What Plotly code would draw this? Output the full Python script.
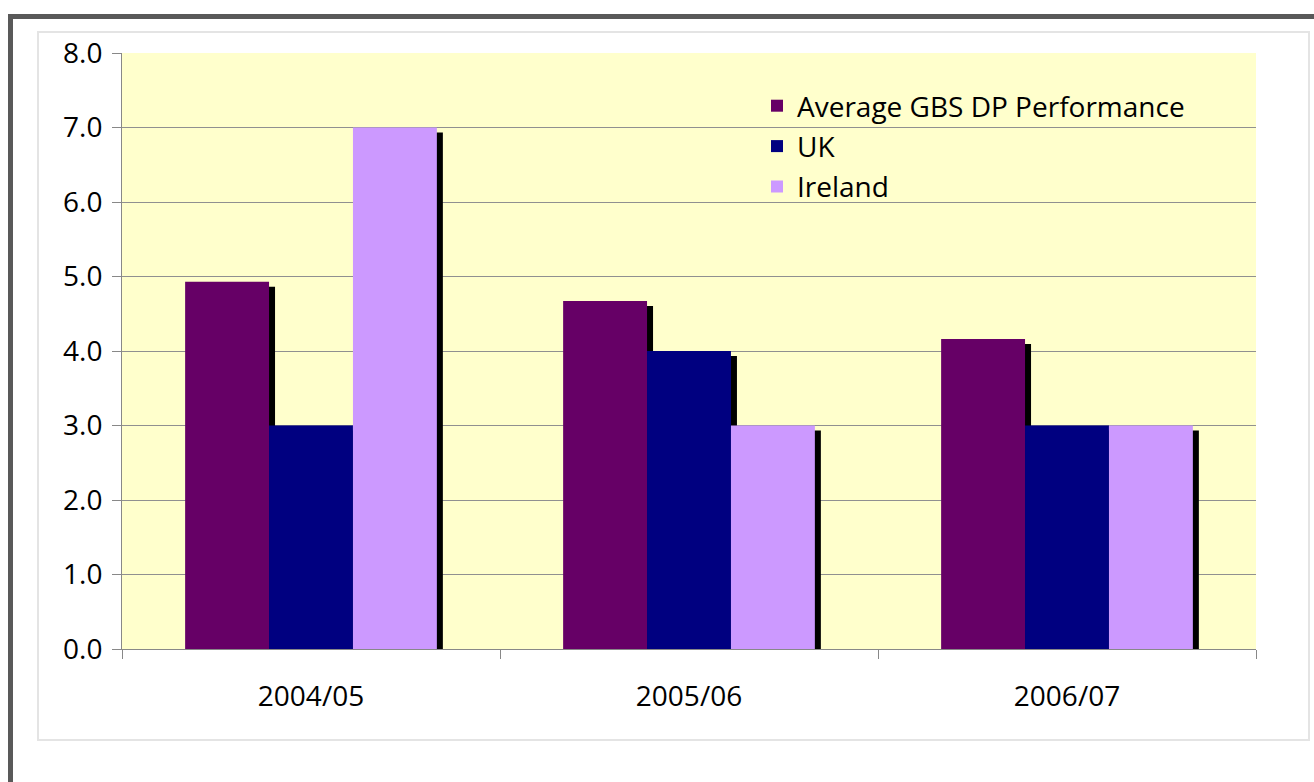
import plotly.graph_objects as go

categories = ["2004/05", "2005/06", "2006/07"]
series_names = ["Average GBS DP Performance", "UK", "Ireland"]
avg_gbs = [4.93, 4.67, 4.16]
uk = [3.0, 4.0, 3.0]
ireland = [7.0, 3.0, 3.0]
y_ticks = [0, 1, 2, 3, 4, 5, 6, 7, 8]
y_tick_labels = ["0.0", "1.0", "2.0", "3.0", "4.0", "5.0", "6.0", "7.0", "8.0"]

colors = ["#660066", "#000080", "#CC99FF"]
values = [avg_gbs, uk, ireland]

W, H = 1314, 782
L, R, T, B = 122, 58, 53, 133
pw = W - L - R
ph = H - T - B

bar_w = 0.222
offsets = [-0.333, -0.111, 0.111]
shadow_dx = 6 / (pw / 3)
shadow_dy = 5 / (ph / 8)

FONT = "Open Sans"
FS = 28

fig = go.Figure()
# shadows first
for vals, off in zip(values, offsets):
    fig.add_trace(go.Bar(
        x=categories, y=vals, base=[-shadow_dy] * len(vals),
        width=bar_w, offset=off + shadow_dx,
        marker=dict(color="black", line=dict(width=0)),
        showlegend=False, hoverinfo="skip", cliponaxis=False,
    ))
for name, vals, col, off in zip(series_names, values, colors, offsets):
    fig.add_trace(go.Bar(
        x=categories, y=vals, name=name, width=bar_w, offset=off,
        marker=dict(color=col, line=dict(width=0)),
        legendgroup=name,
    ))

def px_x(p):
    return (p - L) / pw

def px_y(p):
    return (H - B - p) / ph

shapes = [
    # plot background
    dict(type="rect", xref="paper", yref="paper", x0=0, x1=1, y0=0, y1=1,
         fillcolor="#FFFFCC", line=dict(width=0), layer="below"),
    # inner light frame
    dict(type="rect", xref="paper", yref="paper",
         x0=px_x(38), x1=px_x(1309), y0=px_y(740), y1=px_y(32),
         line=dict(color="#E4E4E4", width=2), fillcolor="rgba(0,0,0,0)", layer="below"),
    # outer dark frame: top and left
    dict(type="line", xref="paper", yref="paper",
         x0=px_x(8), x1=px_x(1320), y0=px_y(16.5), y1=px_y(16.5),
         line=dict(color="#595959", width=5)),
    dict(type="line", xref="paper", yref="paper",
         x0=px_x(10.5), x1=px_x(10.5), y0=px_y(14), y1=px_y(790),
         line=dict(color="#595959", width=5)),
]

fig.update_layout(
    width=W, height=H,
    margin=dict(l=L, r=R, t=T, b=B),
    paper_bgcolor="white",
    plot_bgcolor="rgba(0,0,0,0)",
    barmode="overlay",
    shapes=shapes,
    font=dict(family=FONT, size=FS, color="black"),
    legend=dict(
        x=px_x(757), y=px_y(81), xanchor="left", yanchor="top",
        bgcolor="rgba(0,0,0,0)", font=dict(family=FONT, size=FS),
        tracegroupgap=1, traceorder="grouped",
    ),
    xaxis=dict(
        tickson="boundaries", ticks="outside", ticklen=9, tickcolor="#888888",
        showline=True, linecolor="#888888", linewidth=1,
        showgrid=False, tickfont=dict(size=FS), ticklabelstandoff=22,
    ),
    yaxis=dict(
        range=[0, 8], tickvals=y_ticks, ticktext=y_tick_labels,
        ticks="outside", ticklen=9, tickcolor="#888888",
        showline=True, linecolor="#888888", linewidth=1,
        showgrid=True, gridcolor="#909090", gridwidth=1,
        zeroline=False, tickfont=dict(size=FS), ticklabelstandoff=4,
    ),
)

fig.write_html("out.html")
